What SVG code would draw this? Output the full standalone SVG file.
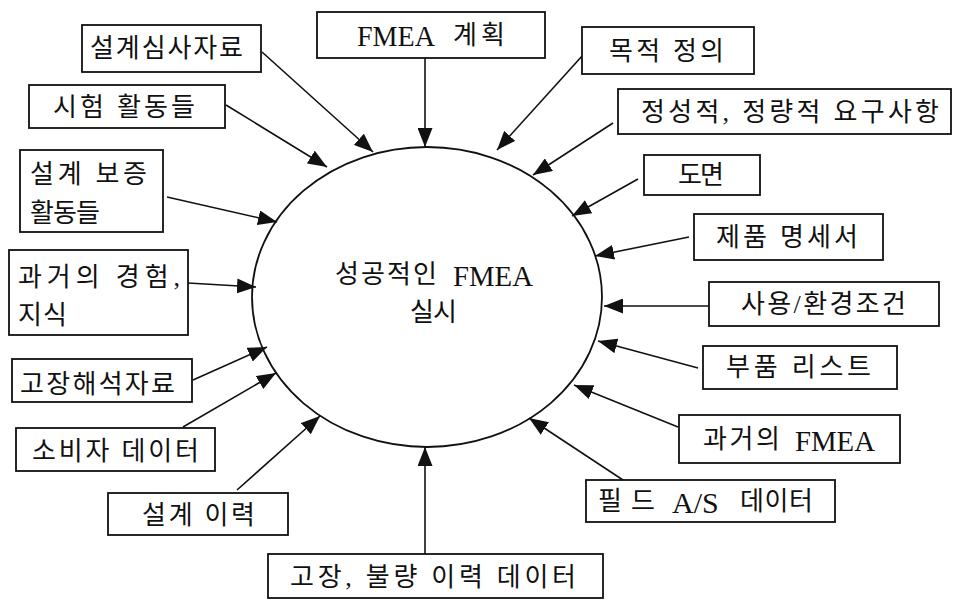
<svg xmlns="http://www.w3.org/2000/svg" width="956" height="602" viewBox="0 0 956 602">
<style>
.box{fill:#fff;stroke:#111;stroke-width:1.8}
.t{font-family:"Liberation Serif","Noto Sans CJK KR",serif;font-size:26px;fill:#111;text-anchor:start;dominant-baseline:central}
.l{font-family:"Liberation Serif","Noto Sans CJK KR",serif;font-size:30px;fill:#111;text-anchor:start;dominant-baseline:central}
.c{stroke:#111;stroke-width:1.6;fill:none;marker-end:url(#ah)}
</style>
<defs>
<marker id="ah" markerUnits="userSpaceOnUse" markerWidth="20" markerHeight="15" refX="19" refY="7.5" orient="auto"><path d="M0,0 L19,7.5 L0,15 z" fill="#111"/></marker>
</defs>
<rect width="956" height="602" fill="#fff"/>
<g id="center">
<ellipse cx="427" cy="297" rx="175" ry="150" fill="none" stroke="#111" stroke-width="1.8"/>
<text class="t" x="335" y="274" textLength="102" lengthAdjust="spacing">성공적인</text>
<text class="l" x="453" y="275" textLength="80" lengthAdjust="spacingAndGlyphs">FMEA</text>
<text class="t" x="410" y="312" textLength="47" lengthAdjust="spacing">실시</text>
</g>
<g id="connectors">
<line class="c" x1="262" y1="52" x2="373" y2="152"/>
<line class="c" x1="425" y1="58" x2="425" y2="147"/>
<line class="c" x1="226" y1="105" x2="327" y2="167"/>
<line class="c" x1="167" y1="197" x2="277" y2="222"/>
<line class="c" x1="188" y1="283" x2="256" y2="287"/>
<line class="c" x1="193" y1="380" x2="267" y2="347"/>
<line class="c" x1="183" y1="427" x2="276" y2="373"/>
<line class="c" x1="237" y1="490" x2="320" y2="416"/>
<line class="c" x1="425" y1="554" x2="425" y2="447"/>
<line class="c" x1="583" y1="55" x2="497" y2="150"/>
<line class="c" x1="613" y1="123" x2="533" y2="175"/>
<line class="c" x1="638" y1="179" x2="572" y2="216"/>
<line class="c" x1="689" y1="237" x2="595" y2="256"/>
<line class="c" x1="709" y1="306" x2="604" y2="306"/>
<line class="c" x1="698" y1="368" x2="598" y2="341"/>
<line class="c" x1="678" y1="427" x2="574" y2="385"/>
<line class="c" x1="626" y1="482" x2="529" y2="418"/>
</g>
<g id="n1"><rect class="box" x="82" y="25" width="179" height="47"/><text class="t" x="90" y="48" textLength="153" lengthAdjust="spacing">설계심사자료</text></g>
<g id="n2"><rect class="box" x="317" y="12" width="228" height="46"/><text class="l" x="357" y="35" textLength="78" lengthAdjust="spacingAndGlyphs">FMEA</text><text class="t" x="453" y="35" textLength="52" lengthAdjust="spacing">계획</text></g>
<g id="n3"><rect class="box" x="29" y="85" width="196" height="43"/><text class="t" x="53" y="107" textLength="142" lengthAdjust="spacing">시험 활동들</text></g>
<g id="n4"><rect class="box" x="20" y="150" width="143" height="82"/><text class="t" x="30" y="174" textLength="117" lengthAdjust="spacing">설계 보증</text><text class="t" x="30" y="213" textLength="70" lengthAdjust="spacing">활동들</text></g>
<g id="n5"><rect class="box" x="9" y="250" width="179" height="85"/><text class="t" x="18" y="277" textLength="162" lengthAdjust="spacing">과거의 경험,</text><text class="t" x="18" y="315" textLength="49" lengthAdjust="spacing">지식</text></g>
<g id="n6"><rect class="box" x="12" y="359" width="180" height="43"/><text class="t" x="20" y="384" textLength="155" lengthAdjust="spacing">고장해석자료</text></g>
<g id="n7"><rect class="box" x="16" y="428" width="199" height="43"/><text class="t" x="32" y="451" textLength="167" lengthAdjust="spacing">소비자 데이터</text></g>
<g id="n8"><rect class="box" x="108" y="493" width="180" height="42"/><text class="t" x="142" y="515" textLength="113" lengthAdjust="spacing">설계 이력</text></g>
<g id="n9"><rect class="box" x="268" y="554" width="335" height="44"/><text class="t" x="290" y="577" textLength="286" lengthAdjust="spacing">고장, 불량 이력 데이터</text></g>
<g id="n10"><rect class="box" x="582" y="27" width="172" height="47"/><text class="t" x="609" y="51" textLength="115" lengthAdjust="spacing">목적 정의</text></g>
<g id="n11"><rect class="box" x="618" y="89" width="333" height="45"/><text class="t" x="641" y="112" textLength="298" lengthAdjust="spacing">정성적, 정량적 요구사항</text></g>
<g id="n12"><rect class="box" x="644" y="155" width="116" height="40"/><text class="t" x="678" y="175" textLength="46" lengthAdjust="spacing">도면</text></g>
<g id="n13"><rect class="box" x="694" y="214" width="189" height="46"/><text class="t" x="716" y="237" textLength="142" lengthAdjust="spacing">제품 명세서</text></g>
<g id="n14"><rect class="box" x="709" y="282" width="230" height="44"/><text class="t" x="741" y="304" textLength="165" lengthAdjust="spacing">사용/환경조건</text></g>
<g id="n15"><rect class="box" x="703" y="346" width="194" height="43"/><text class="t" x="726" y="367" textLength="145" lengthAdjust="spacing">부품 리스트</text></g>
<g id="n16"><rect class="box" x="679" y="415" width="221" height="48"/><text class="t" x="703" y="439" textLength="77" lengthAdjust="spacing">과거의</text><text class="l" x="795" y="440" textLength="80" lengthAdjust="spacingAndGlyphs">FMEA</text></g>
<g id="n17"><rect class="box" x="586" y="480" width="249" height="42"/><text class="t" x="598" y="501" textLength="57" lengthAdjust="spacing">필드</text><text class="l" x="672" y="502">A/S</text><text class="t" x="740" y="501" textLength="73" lengthAdjust="spacing">데이터</text></g>
</svg>
